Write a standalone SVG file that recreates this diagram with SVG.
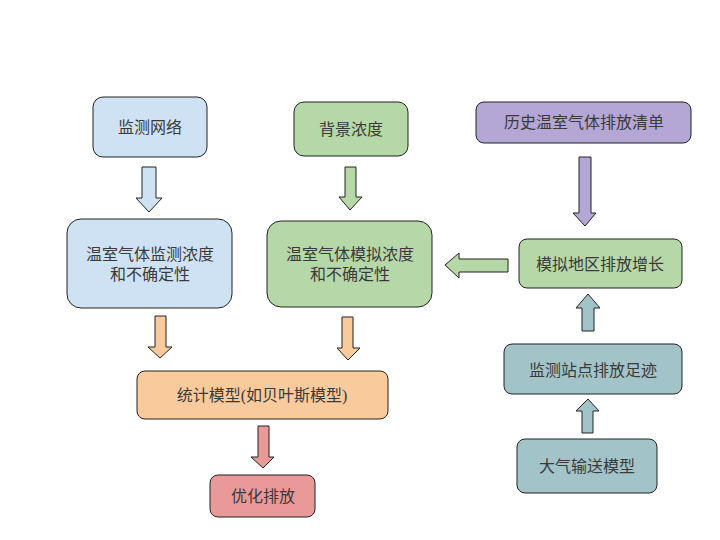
<svg xmlns="http://www.w3.org/2000/svg" width="720" height="540" viewBox="0 0 720 540">
<style>
.box{stroke:#222;stroke-width:1}
.arr{stroke:#222;stroke-width:1}
text{font-family:"Liberation Serif","Noto Sans CJK SC",serif;font-size:16px;fill:#3a3a3a;text-anchor:middle;dominant-baseline:central}
.blue{fill:#cfe2f3}.green{fill:#b6d7a8}.purple{fill:#b4a7d6}.orange{fill:#f9cb9c}.red{fill:#ea9999}.teal{fill:#a2c4c9}
</style>
<rect width="720" height="540" fill="#fff"/>
<g id="connectors">
<polygon class="arr blue" points="142,167 156,167 156,198 162,198 149,212 136,198 142,198"/>
<polygon class="arr green" points="345,167 356,167 356,197 362,197 350,210 339,197 345,197"/>
<polygon class="arr orange" points="155,316 166,316 166,347 172,347 160,358 148,347 155,347"/>
<polygon class="arr orange" points="342,317 353,317 353,348 360,348 348,360 337,348 342,348"/>
<polygon class="arr red" points="258,426 269,426 269,457 274,457 263,468 251,457 258,457"/>
<polygon class="arr purple" points="579,157 591,157 591,213 596,213 585,226 573,213 579,213"/>
<polygon class="arr green" points="508,259 508,272 459,272 459,278 445,265 459,253 459,259"/>
<polygon class="arr teal" points="582,331 594,331 594,308 600,308 588,294 576,308 582,308"/>
<polygon class="arr teal" points="582,433 593,433 593,411 599,411 588,399 576,411 582,411"/>
</g>
<g id="n1"><rect class="box blue" x="93" y="97" width="114" height="60" rx="10"/><text x="150" y="127">监测网络</text></g>
<g id="n2"><rect class="box green" x="294" y="102" width="114" height="54" rx="10"/><text x="351" y="129">背景浓度</text></g>
<g id="n3"><rect class="box blue" x="67" y="219" width="165" height="89" rx="14"/><text x="150" y="254">温室气体监测浓度</text><text x="150" y="274">和不确定性</text></g>
<g id="n4"><rect class="box green" x="267" y="221" width="165" height="86" rx="14"/><text x="350" y="254">温室气体模拟浓度</text><text x="350" y="274">和不确定性</text></g>
<g id="n5"><rect class="box purple" x="476" y="102" width="215" height="41" rx="8"/><text x="584" y="122">历史温室气体排放清单</text></g>
<g id="n6"><rect class="box green" x="519" y="239" width="163" height="49" rx="8"/><text x="600" y="264">模拟地区排放增长</text></g>
<g id="n7"><rect class="box orange" x="137" y="371" width="251" height="48" rx="8"/><text x="262" y="395">统计模型(如贝叶斯模型)</text></g>
<g id="n8"><rect class="box red" x="210" y="475" width="105" height="42" rx="8"/><text x="263" y="496">优化排放</text></g>
<g id="n9"><rect class="box teal" x="504" y="344" width="178" height="50" rx="8"/><text x="593" y="370">监测站点排放足迹</text></g>
<g id="n10"><rect class="box teal" x="517" y="439" width="140" height="54" rx="8"/><text x="587" y="466">大气输送模型</text></g>
</svg>
